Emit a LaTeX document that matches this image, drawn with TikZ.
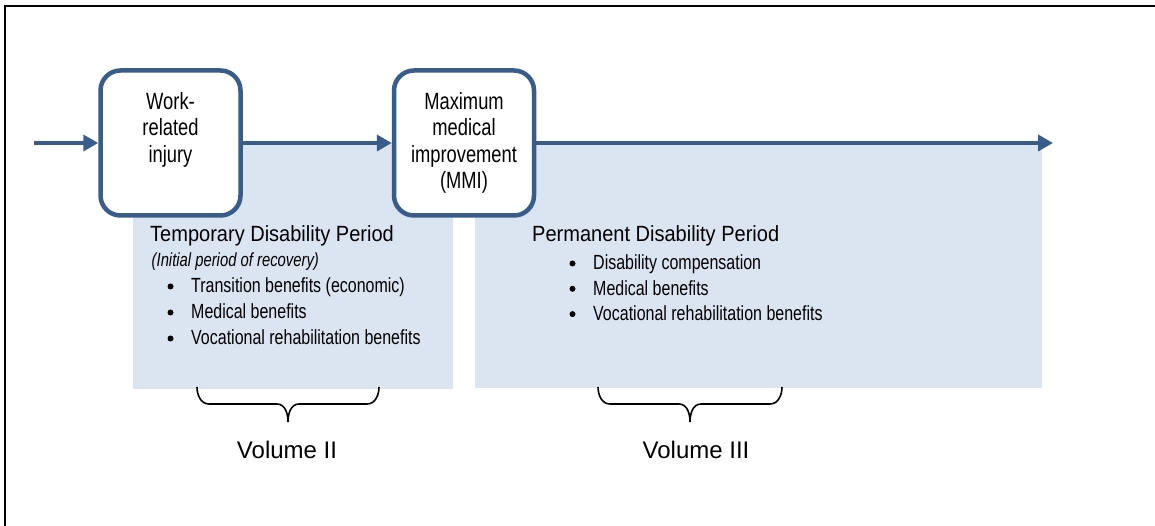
\documentclass[tikz,border=0pt]{standalone}
\usepackage{fontspec}
\setmainfont{Liberation Sans}
\newfontfamily\narrowfont{Liberation Sans}[FakeStretch=0.78]
\newfontfamily\titlefont{Liberation Sans}[FakeStretch=0.91]
\usetikzlibrary{shapes,arrows.meta,positioning,calc}
\definecolor{boxblue}{RGB}{56,93,138}
\definecolor{periodblue}{RGB}{219,229,241}

\begin{document}
\begin{tikzpicture}[x=1pt, y=1pt]
  \tikzstyle{milestone}=[rectangle, draw=boxblue, fill=white, line width=4.5pt, rounded corners=20pt, minimum width=140pt, minimum height=145pt, align=center, inner sep=0pt, font=\narrowfont\fontsize{23.5}{26.6}\selectfont]
  \tikzstyle{period}=[rectangle, fill=periodblue, inner sep=0pt, anchor=south west]
  \tikzstyle{flow}=[draw=boxblue, line width=4pt, -{Triangle[length=15pt, width=16pt]}]
  \tikzstyle{heading}=[anchor=base west, inner sep=0pt, font=\titlefont\fontsize{22}{26}\selectfont]
  \tikzstyle{note}=[anchor=base west, inner sep=0pt, font=\narrowfont\itshape\fontsize{19}{22}\selectfont]
  \tikzstyle{benefit}=[anchor=base west, inner sep=0pt, font=\narrowfont\fontsize{20.5}{24}\selectfont]
  \tikzstyle{volbrace}=[draw, line width=1.6pt]
  \tikzstyle{volume}=[anchor=base, inner sep=0pt, font=\fontsize{24}{28}\selectfont]

  \useasboundingbox (0,0) rectangle (1155,526);
  \draw[line width=2pt] (5,0) -- (5,520) -- (1155,520);

  % Periodos
  \node[period, minimum width=320pt, minimum height=247pt] (tdp) at (133,137) {};
  \node[period, minimum width=567pt, minimum height=246pt] (pdp) at (475,138) {};

  % Hitos
  \node[milestone] (injury) at (170.5,383) {Work-\\related\\injury\\\phantom{(MMI)}};
  \node[milestone] (mmi) at (464,383) {Maximum\\medical\\improvement\\(MMI)};
  \coordinate (start) at (34,383);
  \coordinate (finish) at (1053,383);

  % Flechas
  \draw[flow] (start) -- (injury);
  \draw[flow] (injury) -- (mmi);
  \draw[flow] (mmi) -- (finish);

  % Incapacidad temporal
  \node[heading] (tdptitle) at (150,284) {Temporary Disability Period};
  \node[note] (tdpnote) at (151.5,259.5) {(Initial period of recovery)};
  \node[benefit] (tdp1) at (191,233) {Transition benefits (economic)};
  \node[benefit] (tdp2) at (191,207) {Medical benefits};
  \node[benefit] (tdp3) at (191,181) {Vocational rehabilitation benefits};

  % Incapacidad permanente
  \node[heading] (pdptitle) at (532,284) {Permanent Disability Period};
  \node[benefit] (pdp1) at (593,256) {Disability compensation};
  \node[benefit] (pdp2) at (593,230.7) {Medical benefits};
  \node[benefit] (pdp3) at (593,205.4) {Vocational rehabilitation benefits};

  % Viñetas
  \foreach \n in {tdp1,tdp2,tdp3,pdp1,pdp2,pdp3}
    \fill ($(\n.base west)+(-20.5,6.5)$) circle (3pt);

  % Volumenes
  \draw[volbrace] (379,139) to[out=-90,in=0] (367,122) -- (299,122) to[out=180,in=90] (288,104)
    to[out=90,in=0] (277,122) -- (209,122) to[out=180,in=-90] (197,139);
  \node[volume] (vol2) at (287,67.7) {Volume II};
  \draw[volbrace] (782,139) to[out=-90,in=0] (770,122) -- (701,122) to[out=180,in=90] (690,104)
    to[out=90,in=0] (679,122) -- (610,122) to[out=180,in=-90] (598,139);
  \node[volume] (vol3) at (696,67.7) {Volume III};
\end{tikzpicture}
\end{document}
